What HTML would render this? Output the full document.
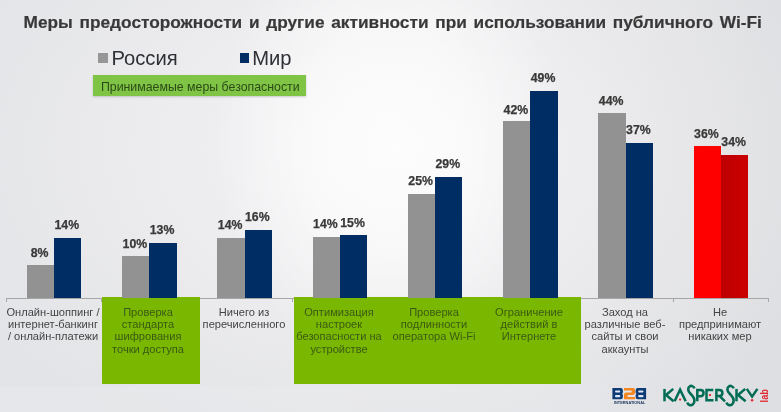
<!DOCTYPE html>
<html lang="ru"><head><meta charset="utf-8"><title>Wi-Fi chart</title>
<style>
html,body{margin:0;padding:0;}
body{width:781px;height:412px;overflow:hidden;position:relative;font-family:"Liberation Sans",sans-serif;
background:#e3e4e7;}
#bg{position:absolute;left:0;top:0;width:781px;height:412px;
background:linear-gradient(90deg, rgba(0,0,0,0) 68%, rgba(0,0,0,0.022) 100%),
radial-gradient(ellipse 175px 230px at 390px 140px, rgba(255,255,255,0.8) 0%, rgba(255,255,255,0.55) 50%, rgba(255,255,255,0) 100%),
radial-gradient(ellipse 480px 320px at 395px 150px, rgb(245,245,247) 0%, rgb(236,236,238) 50%, rgb(227,228,231) 100%);}
#band{position:absolute;left:0;top:387px;width:781px;height:25px;background:linear-gradient(90deg,rgba(255,255,255,0.12) 0%,rgba(255,255,255,0.06) 50%,rgba(255,255,255,0) 100%);}
.abs{position:absolute;}
.title{position:absolute;-webkit-text-stroke:0.2px #383838;left:23.6px;top:11.9px;font-weight:bold;font-size:17.25px;word-spacing:1.95px;color:#383838;white-space:nowrap;}
.bar{position:absolute;}
.g{background:#929292;}
.n{background:#002d64;}
.r{background:#fe0000;}
.d{background:linear-gradient(90deg,#be0000 0%,#cb0000 100%);}
.v{position:absolute;-webkit-text-stroke:0.25px #383838;font-weight:bold;font-size:12.3px;color:#383838;white-space:nowrap;text-align:center;width:40px;line-height:14px;height:14px;}
.c{position:absolute;transform:scaleX(0.957);transform-origin:50% 0;font-size:11.6px;line-height:12.4px;color:#444;text-align:center;width:110px;white-space:nowrap;}
.c.gr{color:#3a5a14;}
.green{position:absolute;background:#7ab700;}
.leg{position:absolute;font-size:20.2px;color:#2e3036;white-space:nowrap;line-height:22px;}
</style></head><body>
<div id="bg"></div><div id="band"></div>
<div id="fg" style="position:absolute;left:0;top:0;width:781px;height:412px;will-change:transform;">

<div class="title" id="title">Меры предосторожности и другие активности при использовании публичного Wi-Fi</div>
<div class="abs" style="left:98.3px;top:53.3px;width:9.6px;height:9.5px;background:#969696"></div>
<div class="leg" id="leg1" style="left:111.4px;top:46.7px;">Россия</div>
<div class="abs" style="left:239.6px;top:53.3px;width:9.7px;height:9.5px;background:#002d64"></div>
<div class="leg" id="leg2" style="left:252.2px;top:46.7px;">Мир</div>
<div class="abs" style="left:93px;top:74.9px;width:213.4px;height:21.6px;background:#80c446;box-shadow:0 1px 2px rgba(0,0,0,0.18);"></div>
<div class="abs" id="tag" style="left:100.9px;top:79.65px;font-size:12.35px;line-height:14px;color:#2a4a16;white-space:nowrap;">Принимаемые меры безопасности</div>
<div class="abs" style="left:6px;top:297.9px;width:763.1px;height:1px;background:#a6a6a6;"></div>
<div class="abs" style="left:6.0px;top:298px;width:1px;height:4px;background:#a6a6a6;"></div>
<div class="abs" style="left:101.3px;top:298px;width:1px;height:4px;background:#a6a6a6;"></div>
<div class="abs" style="left:196.5px;top:298px;width:1px;height:4px;background:#a6a6a6;"></div>
<div class="abs" style="left:291.8px;top:298px;width:1px;height:4px;background:#a6a6a6;"></div>
<div class="abs" style="left:387.0px;top:298px;width:1px;height:4px;background:#a6a6a6;"></div>
<div class="abs" style="left:482.3px;top:298px;width:1px;height:4px;background:#a6a6a6;"></div>
<div class="abs" style="left:577.6px;top:298px;width:1px;height:4px;background:#a6a6a6;"></div>
<div class="abs" style="left:672.8px;top:298px;width:1px;height:4px;background:#a6a6a6;"></div>
<div class="abs" style="left:768.1px;top:298px;width:1px;height:4px;background:#a6a6a6;"></div>
<div class="green" style="left:102.3px;top:297.2px;width:97.3px;height:86.6px;"></div>
<div class="green" style="left:294.1px;top:297.2px;width:286.9px;height:86.6px;"></div>
<div class="bar g" style="left:26.90px;top:265.4px;width:27.20px;height:32.6px"></div>
<div class="bar n" style="left:54.10px;top:237.9px;width:27.20px;height:60.1px"></div>
<div class="v" style="left:19.60px;top:245.5px">8%</div>
<div class="v" style="left:46.80px;top:218.2px">14%</div>
<div class="bar g" style="left:122.16px;top:256.4px;width:27.20px;height:41.6px"></div>
<div class="bar n" style="left:149.36px;top:243.0px;width:27.20px;height:55.0px"></div>
<div class="v" style="left:114.86px;top:236.8px">10%</div>
<div class="v" style="left:142.06px;top:223.4px">13%</div>
<div class="bar g" style="left:217.42px;top:238.2px;width:27.20px;height:59.8px"></div>
<div class="bar n" style="left:244.62px;top:230.0px;width:27.20px;height:68.0px"></div>
<div class="v" style="left:210.12px;top:218.4px">14%</div>
<div class="v" style="left:237.32px;top:209.9px">16%</div>
<div class="bar g" style="left:312.68px;top:237.1px;width:27.20px;height:60.9px"></div>
<div class="bar n" style="left:339.88px;top:234.9px;width:27.20px;height:63.1px"></div>
<div class="v" style="left:305.38px;top:216.8px">14%</div>
<div class="v" style="left:332.58px;top:216.4px">15%</div>
<div class="bar g" style="left:407.94px;top:194.0px;width:27.20px;height:104.0px"></div>
<div class="bar n" style="left:435.14px;top:176.8px;width:27.20px;height:121.2px"></div>
<div class="v" style="left:400.64px;top:174.1px">25%</div>
<div class="v" style="left:427.84px;top:157.2px">29%</div>
<div class="bar g" style="left:503.20px;top:121.4px;width:27.20px;height:176.6px"></div>
<div class="bar n" style="left:530.40px;top:90.6px;width:27.20px;height:207.4px"></div>
<div class="v" style="left:495.90px;top:102.5px">42%</div>
<div class="v" style="left:523.10px;top:71.0px">49%</div>
<div class="bar g" style="left:598.46px;top:113.3px;width:27.20px;height:184.7px"></div>
<div class="bar n" style="left:625.66px;top:142.5px;width:27.20px;height:155.5px"></div>
<div class="v" style="left:591.16px;top:93.5px">44%</div>
<div class="v" style="left:618.36px;top:122.8px">37%</div>
<div class="bar r" style="left:693.72px;top:146.1px;width:27.20px;height:151.9px"></div>
<div class="bar d" style="left:720.92px;top:154.6px;width:27.20px;height:143.4px"></div>
<div class="v" style="left:686.42px;top:127.0px">36%</div>
<div class="v" style="left:713.62px;top:134.8px">34%</div>
<div class="c" style="left:-1.90px;top:305.6px">Онлайн-шоппинг /<br>интернет-банкинг<br>/ онлайн-платежи</div>
<div class="c gr" style="left:93.36px;top:305.6px">Проверка<br>стандарта<br>шифрования<br>точки доступа</div>
<div class="c" style="left:188.62px;top:305.6px">Ничего из<br>перечисленного</div>
<div class="c gr" style="left:283.88px;top:305.6px">Оптимизация<br>настроек<br>безопасности на<br>устройстве</div>
<div class="c gr" style="left:379.14px;top:305.6px">Проверка<br>подлинности<br>оператора Wi-Fi</div>
<div class="c gr" style="left:474.40px;top:305.6px">Ограничение<br>действий в<br>Интернете</div>
<div class="c" style="left:569.66px;top:305.6px">Заход на<br>различные веб-<br>сайты и свои<br>аккаунты</div>
<div class="c" style="left:664.92px;top:305.6px">Не<br>предпринимают<br>никаких мер</div>
<svg class="abs" style="left:605px;top:380px;" width="176" height="32" viewBox="605 380 176 32">
<!-- B2B -->
<g>
<path d="M612.4 388.1 H620.6 Q622.9 388.1 622.9 390.4 V392.2 Q622.9 393.7 621.8 393.7 Q622.9 393.7 622.9 395.2 V397 Q622.9 399.3 620.6 399.3 H612.4 Z" fill="#0e3b76"/>
<rect x="615" y="390.4" width="5.3" height="2.1" rx="1" fill="#dbe8f6"/>
<rect x="615" y="395.1" width="5.3" height="2.1" rx="1" fill="#dbe8f6"/>
<path d="M646.1 388.1 H637.9 Q635.6 388.1 635.6 390.4 V392.2 Q635.6 393.7 636.7 393.7 Q635.6 393.7 635.6 395.2 V397 Q635.6 399.3 637.9 399.3 H646.1 Z" fill="#0e3b76"/>
<rect x="638.2" y="390.4" width="5.3" height="2.1" rx="1" fill="#dbe8f6"/>
<rect x="638.2" y="395.1" width="5.3" height="2.1" rx="1" fill="#dbe8f6"/>
<path d="M624 388.1 H632.8 Q635.1 388.1 635.1 390.4 V392.6 Q635.1 394.9 632.8 394.9 H627.6 V396.9 H635.1 V399.3 H624 V394.8 Q624 392.5 626.3 392.5 H631.6 V390.5 H624 Z" fill="#f5851f"/>
<text x="614" y="403.5" font-family="Liberation Sans, sans-serif" font-weight="bold" font-size="3.1" fill="#1d355e" textLength="31.3" lengthAdjust="spacingAndGlyphs">INTERNATIONAL</text>
</g>
<!-- Kaspersky -->
<g fill="none" stroke="#006c54" stroke-width="2.5" stroke-linejoin="miter" stroke-miterlimit="3">
<path d="M664.5 388.9 V401.3"/>
<path d="M673.2 388.9 L666 395 L673.6 401.3"/>
<path d="M674.6 401.3 L680.1 389.6 L685.7 401.3"/>
<path d="M694.5 388.4 C693.6 386 691.2 385.3 689.6 386.5 C687.5 388 688 391.1 690 393.2 L692.6 396.2 C694.9 398.7 695.1 402.6 692.8 404.5 C690.8 406.1 687.9 405 687.3 402.5" stroke-width="2.6"/>
<path d="M697.3 401.3 V389.9 H700.4 C704.6 389.9 704.6 396.3 700.4 396.3 H698"/>
<path d="M713.3 389.9 H706.5 V400.3 H713.5"/>
<path d="M716.4 401.3 V389.9 H719.4 C723.4 389.9 723.4 395.9 719.4 395.9 H717.2 M719.4 395.9 L725 401.3"/>
<path d="M733.7 388.4 C732.8 386 730.4 385.3 728.8 386.5 C726.7 388 727.2 391.1 729.2 393.2 L731.8 396.2 C734.1 398.7 734.3 402.6 732 404.5 C730 406.1 727.1 405 726.5 402.5" stroke-width="2.6"/>
<path d="M736.5 388.9 V401.3"/>
<path d="M745.2 388.9 L738 395 L745.6 401.3"/>
<path d="M746.8 388.9 L752.1 396.6 L757.4 388.9"/>
</g>
<g fill="#e2232d">
<circle cx="680.1" cy="399.6" r="1.15"/>
<circle cx="710" cy="395.1" r="1.15"/>
<circle cx="752.1" cy="400.2" r="1.2"/>
</g>
<text transform="translate(767.6,402.4) rotate(-90)" font-family="Liberation Sans, sans-serif" font-size="10.5" font-weight="bold" fill="#e0262d" textLength="13.4" lengthAdjust="spacingAndGlyphs">lab</text>
</svg>

</div></body></html>
